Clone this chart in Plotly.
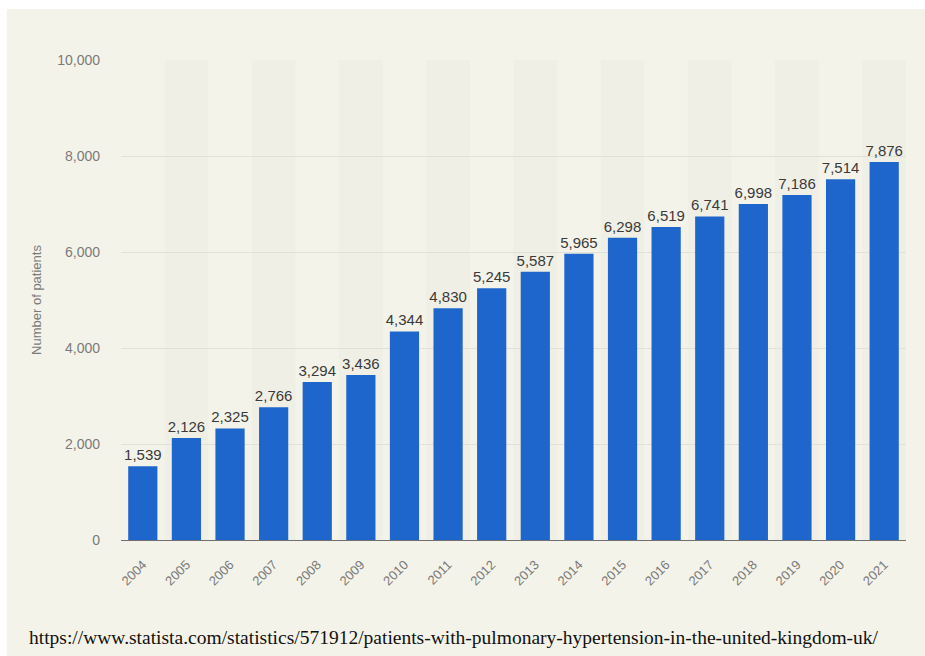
import plotly.graph_objects as go

years = ["2004", "2005", "2006", "2007", "2008", "2009", "2010", "2011", "2012",
         "2013", "2014", "2015", "2016", "2017", "2018", "2019", "2020", "2021"]
patients = [1539, 2126, 2325, 2766, 3294, 3436, 4344, 4830, 5245,
            5587, 5965, 6298, 6519, 6741, 6998, 7186, 7514, 7876]
y_ticks = [0, 2000, 4000, 6000, 8000, 10000]
y_tick_text = ["0", "2,000", "4,000", "6,000", "8,000", "10,000"]
source_url = "https://www.statista.com/statistics/571912/patients-with-pulmonary-hypertension-in-the-united-kingdom-uk/"

BG = "#f4f3e9"
BAND = "#f0efe5"
BLUE = "#1f66cc"

fig = go.Figure()
fig.add_trace(go.Bar(
    x=years, y=patients,
    marker=dict(color=BLUE, line=dict(width=0)),
    text=[f"{v:,}" for v in patients],
    textposition="outside",
    constraintext="none",
    textfont=dict(family="Liberation Sans, Arial, sans-serif", size=15, color="#3a3a3a"),
    cliponaxis=False,
    hoverinfo="skip",
))

shapes = []
# white border strips (top and left)
shapes.append(dict(type="rect", xref="paper", yref="paper", x0=-0.2, x1=1.1, y0=1.106, y1=1.2,
                   fillcolor="white", line=dict(width=0), layer="below"))
shapes.append(dict(type="rect", xref="paper", yref="paper", x0=-0.2, x1=-0.1456, y0=-0.3, y1=1.2,
                   fillcolor="white", line=dict(width=0), layer="below"))
# alternating category bands
for i in range(1, len(years), 2):
    shapes.append(dict(type="rect", xref="x", yref="paper", x0=i - 0.5, x1=i + 0.5, y0=0, y1=1,
                       fillcolor=BAND, line=dict(width=0), layer="below"))

fig.update_layout(
    width=925, height=656,
    margin=dict(l=121, r=19, t=60, b=116),
    paper_bgcolor=BG, plot_bgcolor=BG,
    bargap=0.33,
    showlegend=False,
    shapes=shapes,
    font=dict(family="Liberation Sans, Arial, sans-serif"),
    xaxis=dict(
        type="category",
        tickangle=-45,
        tickfont=dict(size=13, color="#7a7a7a"),
        showgrid=False,
        showline=True, linecolor="#6f6f6f", linewidth=1,
        ticks="", ticklabelstandoff=11,
    ),
    yaxis=dict(
        range=[0, 10000],
        tickvals=y_ticks, ticktext=y_tick_text,
        tickfont=dict(size=14, color="#7a7a7a"),
        showgrid=True, gridcolor="#e2e1d8", gridwidth=1,
        zeroline=False,
        ticklabelstandoff=20,
        title=dict(text="Number of patients", font=dict(size=13, color="#7a7a7a"), standoff=12),
    ),
    annotations=[dict(
        xref="paper", yref="paper", x=-0.1192, y=-0.204, xanchor="left", yanchor="middle",
        text=source_url, showarrow=False,
        font=dict(family="Liberation Serif, Times New Roman, serif", size=19.5, color="#111111"),
    )],
)

fig.write_html("out.html")
